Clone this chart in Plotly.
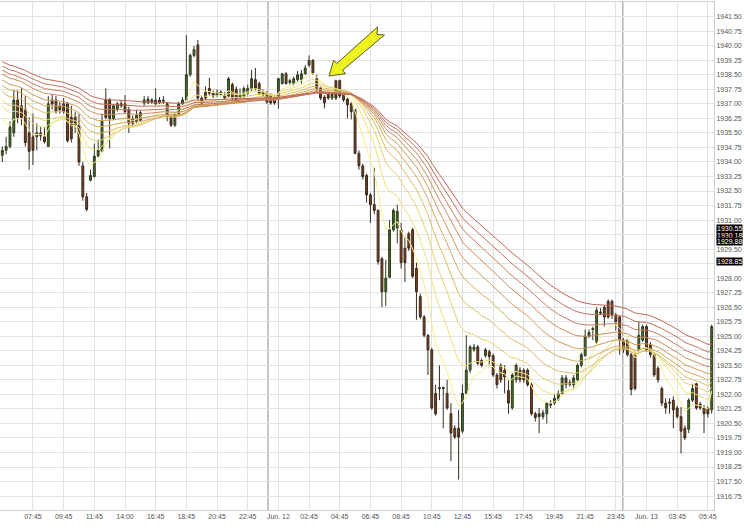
import plotly.graph_objects as go

# ---------------- data (15-minute bars) ----------------
opens = [1934.35, 1934.60, 1934.80, 1935.50, 1937.20, 1936.90, 1936.70, 1935.50, 1935.30, 1935.30,
         1935.50, 1935.30, 1934.80, 1937.20, 1937.20, 1936.90, 1937.00, 1937.00, 1936.30, 1936.30,
         1935.90, 1933.80, 1932.20, 1933.05, 1933.25, 1934.30, 1934.55, 1937.20, 1937.20, 1936.25,
         1936.70, 1937.00, 1937.00, 1936.70, 1936.25, 1936.10, 1936.15, 1937.05, 1937.05, 1937.20,
         1937.00, 1937.20, 1937.20, 1937.00, 1936.35, 1935.90, 1936.50, 1937.00, 1937.20, 1938.50,
         1939.50, 1940.05, 1937.30, 1937.60, 1937.80, 1937.55, 1937.45, 1937.60, 1937.45, 1937.40,
         1938.00, 1937.75, 1937.30, 1937.40, 1937.55, 1937.80, 1938.25, 1938.05, 1937.60, 1937.55,
         1937.45, 1937.35, 1937.25, 1938.05, 1938.55, 1938.10, 1938.05, 1938.25, 1938.25, 1938.55,
         1939.00, 1939.25, 1938.30, 1937.80, 1937.35, 1937.50, 1937.30, 1938.20, 1938.20, 1937.55,
         1937.25, 1937.00, 1936.70, 1934.45, 1933.80, 1933.30, 1932.30, 1931.80, 1931.50, 1929.00,
         1927.30, 1928.05, 1930.50, 1930.60, 1930.50, 1929.55, 1930.30, 1930.50, 1928.50, 1927.05,
         1926.00, 1925.05, 1924.30, 1922.05, 1922.35, 1922.30, 1922.05, 1921.00, 1920.25, 1920.25,
         1920.10, 1922.05, 1923.25, 1924.30, 1924.45, 1923.75, 1924.00, 1924.20, 1924.00, 1923.00,
         1923.50, 1923.25, 1922.20, 1921.30, 1922.75, 1923.25, 1923.25, 1923.25, 1922.50, 1921.00,
         1921.00, 1920.85, 1921.00, 1921.50, 1921.55, 1921.75, 1922.05, 1922.85, 1922.60, 1922.50,
         1922.75, 1923.50, 1924.00, 1925.00, 1925.35, 1924.70, 1926.25, 1926.50, 1926.80, 1926.80,
         1926.10, 1926.00, 1924.80, 1924.80, 1924.05, 1924.05, 1924.30, 1924.80, 1925.50, 1924.55,
         1924.05, 1923.35, 1922.30, 1921.55, 1921.60, 1921.70, 1921.30, 1920.85, 1920.25, 1920.20,
         1921.70, 1922.55, 1921.50, 1921.30, 1921.30, 1921.20]
highs = [1934.80, 1935.30, 1936.10, 1937.70, 1937.70, 1937.80, 1937.40, 1936.30, 1936.50, 1936.00,
         1935.80, 1935.80, 1937.40, 1937.50, 1937.40, 1937.10, 1937.30, 1937.10, 1936.90, 1936.60,
         1936.50, 1934.00, 1932.40, 1933.60, 1934.95, 1935.15, 1936.50, 1937.80, 1937.30, 1937.00,
         1937.10, 1937.20, 1937.45, 1936.85, 1936.40, 1936.70, 1936.65, 1937.40, 1937.40, 1937.30,
         1937.80, 1937.35, 1937.40, 1937.10, 1936.40, 1936.55, 1937.10, 1937.35, 1940.55, 1939.60,
         1940.00, 1940.30, 1937.40, 1937.90, 1938.35, 1937.70, 1937.75, 1937.70, 1937.60, 1938.40,
         1938.10, 1937.90, 1937.80, 1937.90, 1938.00, 1938.75, 1938.85, 1938.15, 1937.75, 1937.65,
         1937.55, 1937.45, 1938.35, 1938.60, 1938.65, 1938.30, 1938.40, 1938.70, 1938.75, 1939.00,
         1939.50, 1939.30, 1938.50, 1937.90, 1937.45, 1937.60, 1937.60, 1938.25, 1938.25, 1937.65,
         1937.30, 1937.10, 1936.75, 1934.60, 1933.90, 1933.40, 1932.40, 1933.70, 1931.55, 1929.10,
         1928.95, 1931.00, 1931.60, 1931.80, 1930.85, 1930.15, 1930.40, 1930.60, 1928.80, 1927.20,
         1926.10, 1925.10, 1924.40, 1922.50, 1923.50, 1922.40, 1922.75, 1921.55, 1920.40, 1921.20,
         1922.50, 1925.05, 1924.55, 1924.60, 1924.55, 1923.85, 1924.40, 1924.30, 1924.10, 1923.10,
         1923.60, 1923.50, 1922.75, 1923.10, 1923.60, 1923.40, 1923.35, 1923.35, 1922.60, 1921.10,
         1921.30, 1921.20, 1921.60, 1921.70, 1922.00, 1922.20, 1923.00, 1923.00, 1922.75, 1923.00,
         1923.60, 1924.15, 1925.35, 1925.35, 1925.50, 1926.50, 1926.45, 1926.60, 1926.90, 1926.90,
         1926.20, 1926.05, 1924.90, 1924.90, 1924.15, 1924.20, 1925.75, 1925.60, 1925.60, 1924.70,
         1924.10, 1923.45, 1922.40, 1921.80, 1921.80, 1921.90, 1921.40, 1921.35, 1920.40, 1921.80,
         1922.55, 1922.60, 1921.60, 1921.45, 1921.40, 1925.60]
lows = [1934.00, 1934.40, 1934.70, 1935.30, 1936.00, 1935.90, 1934.80, 1933.60, 1933.85, 1934.60,
        1935.10, 1934.95, 1934.80, 1936.70, 1936.50, 1936.50, 1936.50, 1935.00, 1935.00, 1935.50,
        1933.80, 1932.00, 1931.45, 1933.00, 1933.20, 1934.25, 1934.50, 1936.20, 1934.70, 1936.15,
        1936.60, 1936.80, 1936.50, 1935.50, 1935.80, 1936.00, 1936.10, 1936.90, 1937.00, 1937.00,
        1936.95, 1937.00, 1937.00, 1936.10, 1935.80, 1935.80, 1936.35, 1936.95, 1937.15, 1938.40,
        1939.40, 1937.20, 1936.95, 1937.20, 1937.45, 1937.30, 1937.35, 1937.40, 1937.20, 1937.35,
        1937.20, 1937.10, 1937.20, 1937.30, 1937.45, 1937.65, 1937.70, 1937.45, 1937.40, 1937.00,
        1936.95, 1936.95, 1936.75, 1938.00, 1938.00, 1938.00, 1937.95, 1938.15, 1938.05, 1938.50,
        1938.90, 1938.50, 1937.60, 1937.20, 1936.77, 1937.20, 1937.20, 1937.20, 1937.30, 1937.10,
        1936.25, 1936.20, 1934.40, 1933.60, 1933.10, 1931.90, 1930.85, 1931.30, 1928.70, 1926.50,
        1926.55, 1928.00, 1930.40, 1929.80, 1928.50, 1927.80, 1929.40, 1928.00, 1925.85, 1925.90,
        1924.95, 1923.00, 1921.20, 1920.90, 1921.70, 1920.25, 1921.20, 1918.55, 1919.70, 1917.60,
        1920.00, 1922.00, 1923.10, 1924.20, 1923.50, 1923.40, 1923.90, 1923.50, 1922.90, 1922.30,
        1922.60, 1922.05, 1921.00, 1921.20, 1922.60, 1922.60, 1922.60, 1922.40, 1920.90, 1920.60,
        1920.00, 1920.70, 1920.50, 1921.30, 1921.45, 1921.65, 1922.00, 1922.30, 1922.40, 1922.30,
        1922.70, 1923.40, 1923.95, 1924.90, 1924.80, 1924.60, 1926.10, 1925.50, 1925.90, 1925.90,
        1925.30, 1924.05, 1924.15, 1923.95, 1921.95, 1922.20, 1924.20, 1924.70, 1924.20, 1923.90,
        1922.90, 1922.60, 1921.40, 1921.00, 1921.00, 1920.25, 1920.75, 1918.95, 1919.65, 1920.00,
        1921.60, 1921.20, 1921.20, 1920.00, 1920.80, 1921.00]
closes = [1934.60, 1934.80, 1935.80, 1937.20, 1936.30, 1936.30, 1935.00, 1934.55, 1934.60, 1935.50,
          1935.35, 1935.05, 1937.00, 1937.00, 1936.60, 1936.70, 1936.60, 1935.10, 1935.20, 1935.90,
          1934.00, 1932.20, 1931.55, 1933.30, 1934.30, 1934.60, 1936.10, 1936.30, 1936.25, 1936.90,
          1937.00, 1936.90, 1936.60, 1936.00, 1936.00, 1936.40, 1936.55, 1937.20, 1937.25, 1937.10,
          1937.20, 1937.05, 1937.15, 1936.35, 1935.90, 1936.45, 1937.00, 1937.20, 1938.50, 1939.50,
          1939.80, 1937.30, 1937.05, 1937.30, 1937.55, 1937.40, 1937.60, 1937.50, 1937.30, 1938.30,
          1937.30, 1937.20, 1937.50, 1937.80, 1937.80, 1938.30, 1937.80, 1937.55, 1937.50, 1937.10,
          1937.05, 1937.05, 1938.30, 1938.55, 1938.05, 1938.20, 1938.30, 1938.50, 1938.55, 1938.85,
          1939.25, 1938.60, 1937.80, 1937.30, 1937.05, 1937.30, 1937.50, 1937.30, 1937.40, 1937.20,
          1936.95, 1936.60, 1934.45, 1933.80, 1933.25, 1932.30, 1931.80, 1931.50, 1928.85, 1927.30,
          1928.00, 1930.50, 1931.50, 1931.45, 1928.80, 1928.80, 1929.55, 1928.10, 1927.30, 1926.00,
          1925.05, 1924.30, 1921.30, 1921.00, 1922.30, 1922.35, 1921.30, 1920.00, 1919.80, 1919.80,
          1922.05, 1923.25, 1924.45, 1924.45, 1923.60, 1923.50, 1924.30, 1923.95, 1923.00, 1922.50,
          1922.75, 1922.90, 1921.55, 1923.00, 1923.50, 1922.75, 1922.75, 1922.50, 1921.00, 1920.80,
          1920.85, 1921.05, 1921.55, 1921.45, 1921.80, 1922.05, 1922.85, 1922.50, 1922.50, 1922.85,
          1923.50, 1924.05, 1925.00, 1925.20, 1925.40, 1926.35, 1926.20, 1926.00, 1926.00, 1926.10,
          1925.75, 1924.80, 1924.30, 1924.05, 1922.25, 1922.30, 1925.05, 1925.50, 1924.30, 1924.05,
          1923.00, 1922.75, 1921.55, 1921.30, 1921.55, 1921.20, 1920.85, 1920.10, 1919.75, 1921.70,
          1922.30, 1921.30, 1921.30, 1921.00, 1921.00, 1925.50]

# moving-average ribbon: periods (fast -> slow) and their values at the first bar
ema_periods = [8, 16, 24, 32, 40, 48, 56, 64, 72, 80]
ema_start = [1936.3, 1936.9, 1937.2, 1937.64, 1937.97, 1938.23, 1938.54, 1938.74, 1938.95, 1939.18]
ema_colors = ["#f6f08a", "#efe27a", "#e6cf6c", "#ddbd62", "#d4ab5c", "#cd9b5a",
              "#c98c5e", "#c67e60", "#c3715c", "#c06456"]

# x-axis labels (one every 8 bars)
tick_bars = [8, 16, 24, 32, 40, 48, 56, 64, 72, 80, 88, 96, 104, 112, 120,
             128, 136, 144, 152, 160, 168, 176, 184]
tick_text = ["07:45", "09:45", "11:45", "14:00", "16:45", "18:45", "20:45", "22:45",
             "Jun. 12", "02:45", "04:45", "06:45", "08:45", "10:45", "12:45", "15:45",
             "17:45", "19:45", "21:45", "23:45", "Jun. 13", "03:45", "05:45"]
day_breaks = [69.3, 161.8]

# price ticks on the right axis (two labels are covered by value flags)
price_ticks = [1916.75 + 0.75 * k for k in range(34)]
hidden_ticks = [1930.25, 1928.75]

# value flags at the right edge
flag_values = [1930.55, 1930.18, 1929.88, 1928.85]

bars = list(range(len(closes)))

fig = go.Figure()

# ribbon (exponential moving averages of the closes)
for period, start, col in zip(ema_periods, ema_start, ema_colors):
    a = 2.0 / (period + 1)
    vals = [start]
    for c in closes[1:]:
        vals.append(vals[-1] + a * (c - vals[-1]))
    fig.add_trace(go.Scatter(x=bars, y=vals, mode="lines",
                             line=dict(color=col, width=1), hoverinfo="skip",
                             showlegend=False))

fig.add_trace(go.Candlestick(
    x=bars, open=opens, high=highs, low=lows, close=closes,
    increasing=dict(line=dict(color="#2f3a22", width=1), fillcolor="#44711f"),
    decreasing=dict(line=dict(color="#3a2a1c", width=1), fillcolor="#7c3f1d"),
    whiskerwidth=0, showlegend=False))

for xb in day_breaks:
    fig.add_shape(type="line", xref="x", yref="paper", x0=xb, x1=xb, y0=0, y1=1,
                  line=dict(color="#b4b4b4", width=1.5), layer="below")

# yellow arrow (decoration) drawn in pixel space of the plot area
PW, PH, PT = 714.0, 508.0, 2.0
def px(pt):
    return (pt[0] / PW, 1 - (pt[1] - PT) / PH)
arrow_pts = [(329, 76), (345.5, 73.7), (342.5, 70.3), (384.5, 35.0), (377.0, 34.5),
             (377.5, 27.0), (336.7, 63.5), (333.7, 60.1)]
path = "M " + " L ".join("%.4f,%.4f" % px(p) for p in arrow_pts) + " Z"
fig.add_shape(type="path", xref="paper", yref="paper", path=path,
              fillcolor="#eef21e", line=dict(color="#5a5a2a", width=1))

for v in flag_values:
    fig.add_annotation(x=1.0, xref="paper", xanchor="left", xshift=2, y=v, yref="y",
                       text="%.2f" % v, showarrow=False, bgcolor="#000000",
                       font=dict(color="#ffffff", size=7, family="Arial, Liberation Sans"),
                       borderpad=0)

tick_labels = ["" if any(abs(t - h) < 1e-6 for h in hidden_ticks) else "%.2f" % t
               for t in price_ticks]

fig.update_layout(
    width=744, height=528,
    margin=dict(l=0, r=30, t=2, b=18, autoexpand=False),
    paper_bgcolor="#ffffff", plot_bgcolor="#ffffff",
    font=dict(family="Arial, Liberation Sans, sans-serif", size=7, color="#555555"),
    showlegend=False, hovermode=False,
    xaxis=dict(range=[-0.6, 185.6], tickvals=tick_bars, ticktext=tick_text,
               showgrid=True, gridcolor="#e2e2e2", gridwidth=1, zeroline=False,
               rangeslider=dict(visible=False), showline=True, linecolor="#cfcfcf",
               mirror=True, ticks="", automargin=False,
               tickfont=dict(size=7, color="#555555")),
    yaxis=dict(side="right", range=[1916.03, 1942.26], tickvals=price_ticks,
               ticktext=tick_labels, showgrid=True, automargin=False,
               gridcolor="#e2e2e2", gridwidth=1, zeroline=False, showline=True,
               linecolor="#cfcfcf", mirror=True, ticks="",
               tickfont=dict(size=7, color="#555555")),
)

fig.write_html("out.html", config={"displayModeBar": False},
               post_script="document.body.style.margin='0px';")
